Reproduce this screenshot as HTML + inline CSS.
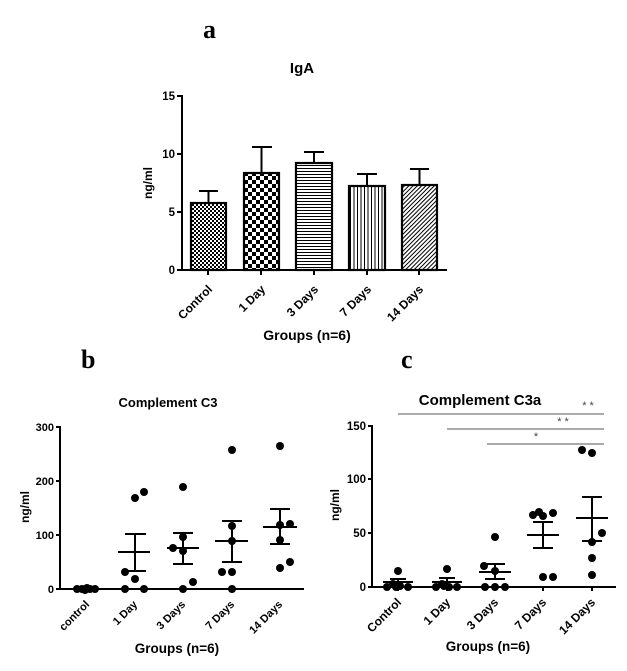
<!DOCTYPE html>
<html><head><meta charset="utf-8"><style>
html,body{margin:0;padding:0;background:#fff;}
svg{display:block;}
text{font-family:"Liberation Sans",Arial,sans-serif;font-weight:bold;fill:#000;}
.ser{font-family:"Liberation Serif","Times New Roman",serif;}
</style></head><body>
<svg width="627" height="671" viewBox="0 0 627 671" xmlns="http://www.w3.org/2000/svg">
<defs>
<pattern id="p0" width="4" height="4" patternUnits="userSpaceOnUse"><rect width="4" height="4" fill="#fff"/><rect width="2" height="2" fill="#000"/><rect x="2" y="2" width="2" height="2" fill="#000"/></pattern>
<pattern id="p1" width="8" height="8" patternUnits="userSpaceOnUse"><rect width="8" height="8" fill="#fff"/><rect width="4" height="4" fill="#000"/><rect x="4" y="4" width="4" height="4" fill="#000"/></pattern>
<pattern id="p2" width="4" height="3" patternUnits="userSpaceOnUse"><rect width="4" height="3" fill="#fff"/><rect y="0" width="4" height="1" fill="#000"/></pattern>
<pattern id="p3" width="3.5" height="4" patternUnits="userSpaceOnUse"><rect width="3.5" height="4" fill="#fff"/><rect x="0" width="1" height="4" fill="#000"/></pattern>
<pattern id="p4" width="3" height="3" patternUnits="userSpaceOnUse" patternTransform="rotate(45)"><rect width="3" height="3" fill="#fff"/><rect width="1" height="3" fill="#000"/></pattern>
</defs>
<rect width="627" height="671" fill="#fff"/>

<!-- Panel a -->
<text class="ser" x="203" y="38" font-size="26">a</text>
<text x="302" y="73" font-size="15" text-anchor="middle">IgA</text>
<g stroke="#000" stroke-width="2" fill="none">
<line x1="182" y1="95" x2="182" y2="271"/>
<line x1="181" y1="270" x2="447" y2="270"/>
<line x1="177" y1="96" x2="182" y2="96"/>
<line x1="177" y1="154" x2="182" y2="154"/>
<line x1="177" y1="212" x2="182" y2="212"/>
<line x1="177" y1="270" x2="182" y2="270"/>
<line x1="208" y1="270" x2="208" y2="275"/>
<line x1="261" y1="270" x2="261" y2="275"/>
<line x1="314" y1="270" x2="314" y2="275"/>
<line x1="367" y1="270" x2="367" y2="275"/>
<line x1="419" y1="270" x2="419" y2="275"/>
</g>
<g font-size="11.5" text-anchor="end">
<text x="175" y="100">15</text>
<text x="175" y="158">10</text>
<text x="175" y="216">5</text>
<text x="175" y="274">0</text>
</g>
<text transform="translate(152,183) rotate(-90)" font-size="12" text-anchor="middle">ng/ml</text>
<g stroke="#000" stroke-width="2">
<line x1="208.5" y1="203" x2="208.5" y2="191"/><line x1="199" y1="191" x2="218" y2="191"/>
<line x1="261.5" y1="173" x2="261.5" y2="147"/><line x1="252" y1="147" x2="272" y2="147"/>
<line x1="314" y1="163" x2="314" y2="152"/><line x1="304" y1="152" x2="324" y2="152"/>
<line x1="367" y1="186" x2="367" y2="174"/><line x1="357" y1="174" x2="377" y2="174"/>
<line x1="419.5" y1="185" x2="419.5" y2="169"/><line x1="410" y1="169" x2="429" y2="169"/>
</g>
<g stroke="#000" stroke-width="2.2">
<rect x="191" y="203" width="35" height="67" fill="url(#p0)"/>
<rect x="244" y="173" width="35" height="97" fill="url(#p1)"/>
<rect x="296" y="163" width="36" height="107" fill="url(#p2)"/>
<rect x="349" y="186" width="36" height="84" fill="url(#p3)"/>
<rect x="402" y="185" width="35" height="85" fill="url(#p4)"/>
</g>
<g font-size="12" text-anchor="end">
<text transform="translate(213,290) rotate(-45)">Control</text>
<text transform="translate(266,290) rotate(-45)">1 Day</text>
<text transform="translate(319,290) rotate(-45)">3 Days</text>
<text transform="translate(372,290) rotate(-45)">7 Days</text>
<text transform="translate(424,290) rotate(-45)">14 Days</text>
</g>
<text x="307" y="340" font-size="14" text-anchor="middle">Groups (n=6)</text>

<!-- Panel b -->
<text class="ser" x="81" y="368" font-size="26">b</text>
<text x="168" y="407" font-size="13" text-anchor="middle">Complement C3</text>
<g stroke="#000" stroke-width="2" fill="none">
<line x1="60" y1="426" x2="60" y2="590"/>
<line x1="59" y1="589" x2="304" y2="589"/>
<line x1="56" y1="427" x2="60" y2="427"/>
<line x1="56" y1="481" x2="60" y2="481"/>
<line x1="56" y1="535" x2="60" y2="535"/>
<line x1="56" y1="589" x2="60" y2="589"/>
</g>
<g font-size="11" text-anchor="end">
<text x="54" y="431">300</text>
<text x="54" y="485">200</text>
<text x="54" y="539">100</text>
<text x="54" y="593">0</text>
</g>
<text transform="translate(29,507) rotate(-90)" font-size="12" text-anchor="middle">ng/ml</text>
<g fill="#000">
<circle cx="77" cy="589" r="4"/><circle cx="82" cy="589" r="4"/><circle cx="87" cy="588" r="4"/><circle cx="90" cy="589" r="4"/><circle cx="95" cy="589" r="4"/><circle cx="85" cy="590" r="4"/>
<circle cx="135" cy="498" r="4"/><circle cx="144" cy="492" r="4"/><circle cx="125" cy="572" r="4"/><circle cx="135" cy="579" r="4"/><circle cx="125" cy="589" r="4"/><circle cx="144" cy="589" r="4"/>
<circle cx="183" cy="487" r="4"/><circle cx="173" cy="548" r="4"/><circle cx="183" cy="551" r="4"/><circle cx="183" cy="537" r="4"/><circle cx="193" cy="582" r="4"/><circle cx="183" cy="589" r="4"/>
<circle cx="232" cy="450" r="4"/><circle cx="232" cy="526" r="4"/><circle cx="232" cy="541" r="4"/><circle cx="222" cy="572" r="4"/><circle cx="232" cy="572" r="4"/><circle cx="232" cy="589" r="4"/>
<circle cx="280" cy="446" r="4"/><circle cx="280" cy="525" r="4"/><circle cx="290" cy="524" r="4"/><circle cx="280" cy="540" r="4"/><circle cx="280" cy="568" r="4"/><circle cx="290" cy="562" r="4"/>
</g>
<g stroke="#000" stroke-width="2">
<line x1="118" y1="552" x2="150" y2="552"/><line x1="135" y1="534" x2="135" y2="571"/><line x1="125" y1="534" x2="146" y2="534"/><line x1="125" y1="571" x2="146" y2="571"/>
<line x1="167" y1="548" x2="199" y2="548"/><line x1="183" y1="533" x2="183" y2="564"/><line x1="173" y1="533" x2="193" y2="533"/><line x1="173" y1="564" x2="193" y2="564"/>
<line x1="215" y1="541" x2="248" y2="541"/><line x1="232" y1="521" x2="232" y2="562"/><line x1="222" y1="521" x2="242" y2="521"/><line x1="222" y1="562" x2="242" y2="562"/>
<line x1="263" y1="527" x2="297" y2="527"/><line x1="280" y1="509" x2="280" y2="544"/><line x1="270" y1="509" x2="290" y2="509"/><line x1="270" y1="544" x2="290" y2="544"/>
</g>
<g font-size="11" text-anchor="end">
<text transform="translate(90,605) rotate(-45)">control</text>
<text transform="translate(138,605) rotate(-45)">1 Day</text>
<text transform="translate(186,605) rotate(-45)">3 Days</text>
<text transform="translate(235,605) rotate(-45)">7 Days</text>
<text transform="translate(283,605) rotate(-45)">14 Days</text>
</g>
<text x="177" y="653" font-size="13.5" text-anchor="middle">Groups (n=6)</text>

<!-- Panel c -->
<text class="ser" x="401" y="368" font-size="26">c</text>
<text x="480" y="405" font-size="15" text-anchor="middle">Complement C3a</text>
<g stroke="#555" stroke-width="1">
<line x1="398" y1="414" x2="604" y2="414"/>
<line x1="447" y1="429" x2="604" y2="429"/>
<line x1="487" y1="444" x2="604" y2="444"/>
</g>
<g font-size="11" text-anchor="middle" fill="#444">
<text x="588" y="409" style="fill:#444;font-weight:normal">* *</text>
<text x="563" y="425" style="fill:#444;font-weight:normal">* *</text>
<text x="536" y="440" style="fill:#444;font-weight:normal">*</text>
</g>
<g stroke="#000" stroke-width="2" fill="none">
<line x1="372" y1="425" x2="372" y2="588"/>
<line x1="371" y1="587" x2="616" y2="587"/>
<line x1="368" y1="426" x2="372" y2="426"/>
<line x1="368" y1="479" x2="372" y2="479"/>
<line x1="368" y1="533" x2="372" y2="533"/>
<line x1="368" y1="587" x2="372" y2="587"/>
<line x1="398" y1="587" x2="398" y2="591"/>
<line x1="447" y1="587" x2="447" y2="591"/>
<line x1="495" y1="587" x2="495" y2="591"/>
<line x1="543" y1="587" x2="543" y2="591"/>
<line x1="592" y1="587" x2="592" y2="591"/>
</g>
<g font-size="11.5" text-anchor="end">
<text x="366" y="430">150</text>
<text x="366" y="483">100</text>
<text x="366" y="537">50</text>
<text x="366" y="591">0</text>
</g>
<text transform="translate(339,505) rotate(-90)" font-size="12" text-anchor="middle">ng/ml</text>
<g fill="#000">
<circle cx="387" cy="587" r="4"/><circle cx="396" cy="587" r="4"/><circle cx="400" cy="586" r="4"/><circle cx="408" cy="587" r="4"/><circle cx="398" cy="571" r="4"/><circle cx="393" cy="584" r="4"/>
<circle cx="436" cy="587" r="4"/><circle cx="444" cy="586" r="4"/><circle cx="449" cy="587" r="4"/><circle cx="457" cy="587" r="4"/><circle cx="447" cy="569" r="4"/><circle cx="442" cy="584" r="4"/>
<circle cx="495" cy="537" r="4"/><circle cx="484" cy="566" r="4"/><circle cx="495" cy="571" r="4"/><circle cx="485" cy="587" r="4"/><circle cx="495" cy="587" r="4"/><circle cx="505" cy="587" r="4"/>
<circle cx="533" cy="515" r="4"/><circle cx="539" cy="512" r="4"/><circle cx="543" cy="516" r="4"/><circle cx="553" cy="513" r="4"/><circle cx="543" cy="577" r="4"/><circle cx="553" cy="577" r="4"/>
<circle cx="582" cy="450" r="4"/><circle cx="592" cy="453" r="4"/><circle cx="602" cy="533" r="4"/><circle cx="592" cy="542" r="4"/><circle cx="592" cy="558" r="4"/><circle cx="592" cy="575" r="4"/>
</g>
<g stroke="#000" stroke-width="2">
<line x1="383" y1="582" x2="413" y2="582"/><line x1="398" y1="579" x2="398" y2="585"/><line x1="390" y1="579" x2="406" y2="579"/>
<line x1="432" y1="582" x2="462" y2="582"/><line x1="447" y1="578" x2="447" y2="585"/><line x1="439" y1="578" x2="455" y2="578"/>
<line x1="479" y1="572" x2="511" y2="572"/><line x1="495" y1="564" x2="495" y2="579"/><line x1="485" y1="564" x2="505" y2="564"/><line x1="485" y1="579" x2="505" y2="579"/>
<line x1="527" y1="535" x2="559" y2="535"/><line x1="543" y1="522" x2="543" y2="548"/><line x1="533" y1="522" x2="553" y2="522"/><line x1="533" y1="548" x2="553" y2="548"/>
<line x1="576" y1="518" x2="608" y2="518"/><line x1="592" y1="497" x2="592" y2="541"/><line x1="582" y1="497" x2="602" y2="497"/><line x1="582" y1="541" x2="602" y2="541"/>
</g>
<g font-size="12" text-anchor="end">
<text transform="translate(402,603) rotate(-45)">Control</text>
<text transform="translate(451,603) rotate(-45)">1 Day</text>
<text transform="translate(499,603) rotate(-45)">3 Days</text>
<text transform="translate(547,603) rotate(-45)">7 Days</text>
<text transform="translate(596,603) rotate(-45)">14 Days</text>
</g>
<text x="488" y="651" font-size="13.5" text-anchor="middle">Groups (n=6)</text>
</svg>
</body></html>
